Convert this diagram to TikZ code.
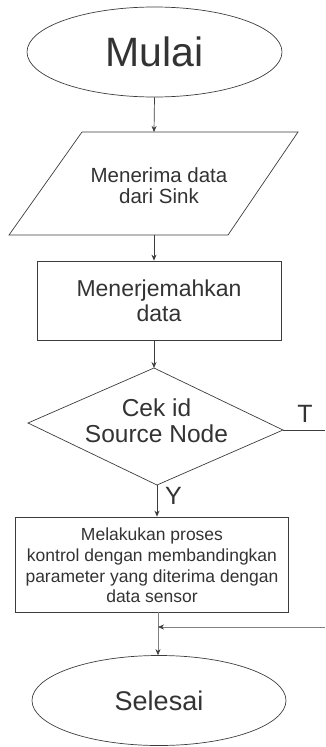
\documentclass[tikz,border=0pt]{standalone}
\usepackage{fontspec}
\setmainfont{Liberation Sans}
\usetikzlibrary{shapes.geometric,arrows.meta}
\definecolor{ln}{HTML}{3C3C3C}
\definecolor{lnl}{HTML}{808080}
\definecolor{tx}{HTML}{333333}
\begin{document}
\begin{tikzpicture}[x=1pt,y=-1pt,line width=0.7pt,
  shp/.style={draw=ln},
  lbl/.style={text=tx,align=center,inner sep=0pt},
  arr/.style={draw=ln,-{Stealth[length=6pt,width=5pt]}},
  arrl/.style={draw=lnl,line width=0.5pt,-{Stealth[length=6pt,width=5pt,fill=ln,color=ln]}}]
\useasboundingbox (0,0) rectangle (325,747);
% start
\node[shp,ellipse,minimum width=255pt,minimum height=90pt,inner sep=0pt,text=tx,font=\fontsize{41}{45}\selectfont] (mulai) at (154.5,52) {Mulai};
% input parallelogram
\coordinate (pa) at (82,132);
\coordinate (pb) at (298,132);
\coordinate (pc) at (228,235);
\coordinate (pd) at (9,235);
\draw[shp] (pa)--(pb)--(pc)--(pd)--cycle;
\coordinate (ptop) at (154,132);
\coordinate (pbot) at (154,235);
\node[lbl,font=\fontsize{20.5}{21}\selectfont] (terima) at (159,185.5) {Menerima data\\dari Sink};
% process 1
\node[shp,rectangle,minimum width=244pt,minimum height=79pt,text=tx,align=center,font=\fontsize{23}{25}\selectfont] (r1) at (159,300.5) {Menerjemahkan\\data};
% decision
\coordinate (dt) at (154,368);
\coordinate (dr) at (283,430);
\coordinate (db) at (157,485);
\coordinate (dl) at (28,423);
\draw[shp] (dt)--(dr)--(db)--(dl)--cycle;
\node[lbl,font=\fontsize{24.5}{26}\selectfont] (cek) at (156.5,420.5) {Cek id\\Source Node};
\coordinate (tend) at (325,430);
\node[lbl,font=\fontsize{25}{25}\selectfont] (tl) at (305,414) {T};
\node[lbl,font=\fontsize{25}{25}\selectfont] (yl) at (173.5,496) {Y};
% process 2
\node[shp,rectangle,minimum width=273pt,minimum height=95pt] (r2) at (151.5,564.5) {};
\node[lbl,font=\fontsize{17.5}{20.7}\selectfont] (proses) at (152,565.5) {Melakukan proses\\kontrol dengan membandingkan\\parameter yang diterima dengan\\data sensor};
% end
\node[shp,ellipse,minimum width=254pt,minimum height=90pt,inner sep=0pt,text=tx,font=\fontsize{27}{30}\selectfont] (sel) at (159,700.5) {Selesai};
\coordinate (m) at (158,627);
\coordinate (mend) at (325,627);
% connectors
\draw[arr] (mulai.south) -- (ptop);
\draw[arr] (pbot) -- (pbot |- r1.north);
\draw[arr] (dt |- r1.south) -- (dt);
\draw[shp] (dr) -- (tend);
\draw[arr] (db) -- (db |- r2.north);
\draw[arrl] (m |- r2.south) -- (m |- sel.north);
\draw[arrl] (mend) -- (m);
\end{tikzpicture}
\end{document}
